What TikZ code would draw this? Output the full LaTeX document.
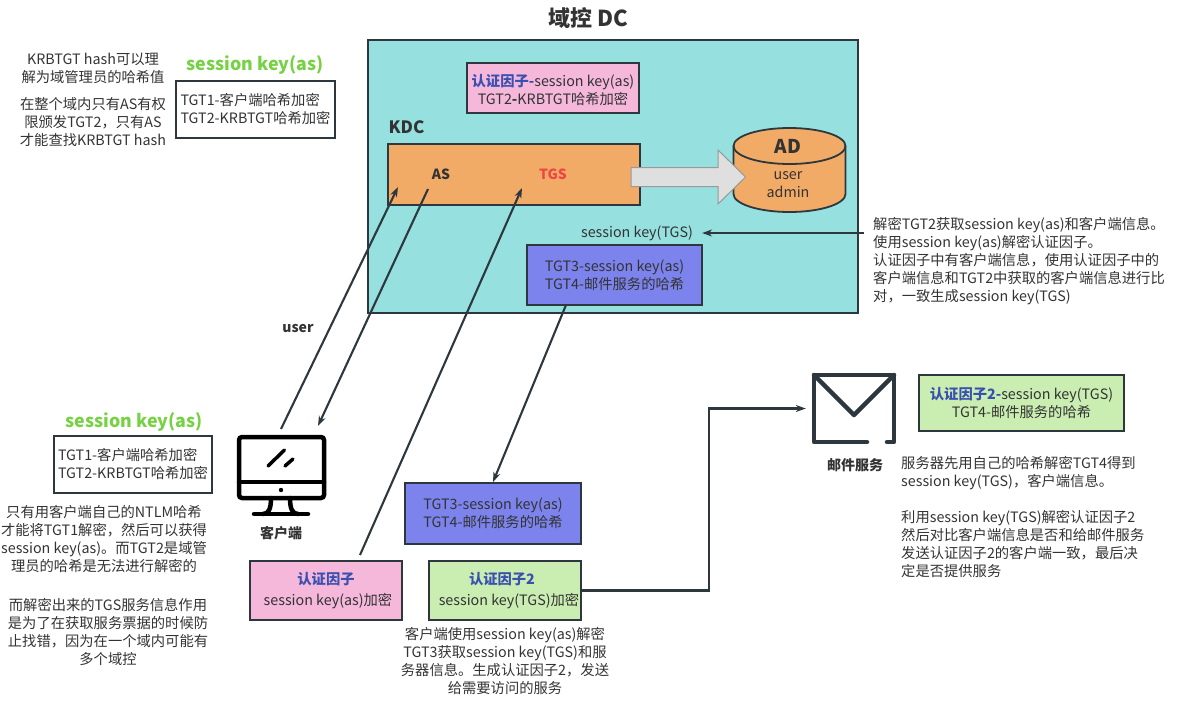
\documentclass[tikz,border=0pt]{standalone}
\usepackage{fontspec}
\setmainfont{Noto Sans CJK SC}
\usepackage{xcolor}
\usepackage{tikz}
\usetikzlibrary{calc, arrows.meta, positioning}
\definecolor{linecol}{RGB}{45, 56, 62}
\definecolor{textcol}{RGB}{51, 51, 51}
\definecolor{tealfill}{RGB}{150, 224, 224}
\definecolor{pinkfill}{RGB}{245, 184, 219}
\definecolor{orangefill}{RGB}{242, 171, 102}
\definecolor{purplefill}{RGB}{124, 131, 236}
\definecolor{greenfill}{RGB}{202, 237, 178}
\definecolor{greenkey}{RGB}{119, 209, 68}
\definecolor{bluekey}{RGB}{58, 80, 176}
\definecolor{redkey}{RGB}{236, 70, 70}
\tikzset{
    boxnode/.style = {draw=linecol, line width=1.8pt, rectangle, inner sep=0pt,
      text=textcol, align=center, font=\fontsize{14.3}{18}\selectfont},
    textnode/.style = {draw=none, fill=none, rectangle, inner sep=0pt,
      text=textcol, align=center, font=\fontsize{14.3}{18}\selectfont},
    boldnode/.style = {textnode, font=\fontsize{14}{18}\selectfont\bfseries},
    keynode/.style = {textnode, text=greenkey, font=\fontsize{17.8}{22}\selectfont\bfseries},
    iconnode/.style = {rectangle, draw=none, inner sep=0pt},
    iconline/.style = {draw=linecol, line width=4.5pt, line cap=round, line join=round},
    connect/.style = {draw=linecol, line width=2.1pt, -{Stealth[length=10pt,width=7pt]}},
}
\newcommand{\keyword}[1]{\textcolor{bluekey}{\textbf{#1}}}

\begin{document}
\begin{tikzpicture}[x=1pt,y=1pt,node distance=0pt]
    \path[use as bounding box] (0,0) rectangle (1179,-710);

    % domain controller
    \node[boxnode, name=DC, fill=tealfill, minimum width=490pt, minimum height=273pt] at (613,-176.5) {};
    \node[textnode, above of=DC, xshift=-25pt, yshift=158.5pt, font=\fontsize{22}{24}\selectfont\bfseries] {域控 DC};
    \node[boxnode, name=AuthTgt, above of=DC, xshift=-60pt, yshift=88.5pt, fill=pinkfill, minimum width=172pt, minimum height=50pt]
      {\rule{0pt}{16pt}\keyword{认证因子-}session key(as)\\TGT2\textbf{-}KRBTGT哈希加密};
    \node[boxnode, name=KDC, left of=DC, xshift=-99pt, yshift=2pt, fill=orangefill, minimum width=252pt, minimum height=61pt] {};
    \node[boldnode, above of=KDC, xshift=-107.5pt, yshift=47.5pt, font=\fontsize{17}{20}\selectfont\bfseries] {KDC};
    \node[boldnode, name=AS, left of=KDC, xshift=-73pt, yshift=0.5pt] {AS};
    \node[boldnode, name=TGS, right of=KDC, xshift=39pt, yshift=0.5pt, text=redkey] {TGS};

    % directory store
    \node[iconnode, name=AD, right of=DC, xshift=176.5pt, yshift=6.5pt, minimum width=113pt, minimum height=84pt] {};
    \begin{scope}[shift={(AD)}]
      \draw[draw=linecol, line width=1.8pt, fill=orangefill] (-56,24) arc (180:0:56 and 18) -- (56,-24) arc (0:-180:56 and 18) -- cycle;
      \draw[draw=linecol, line width=1.8pt] (-56,24) arc (180:360:56 and 18);
    \end{scope}
    \node[boldnode, above of=AD, xshift=-1.5pt, yshift=24pt, font=\fontsize{19}{22}\selectfont\bfseries] {AD};
    \node[textnode, below of=AD, xshift=-1.5pt, yshift=-14.5pt] {user\\admin};
    \node[iconnode, name=BlockArrow, right of=KDC, xshift=174.5pt, yshift=-2.5pt, minimum width=115pt, minimum height=54pt] {};
    \begin{scope}[shift={(BlockArrow)}]
      \draw[draw=gray!80, line width=1pt, fill=gray!25] (-57.5,9.5) -- (29.5,9.5) -- (29.5,27) -- (57,0) -- (29.5,-27) -- (29.5,-9.5) -- (-57.5,-9.5) -- cycle;
    \end{scope}

    \node[textnode, name=SessTGS, below of=DC, xshift=24pt, yshift=-56.5pt] {session key(TGS)};
    \node[boxnode, name=TgtTop, below of=DC, xshift=1.5pt, yshift=-98.5pt, fill=purplefill, minimum width=175pt, minimum height=60pt]
      {TGT3-session key(as)\\TGT4-邮件服务的哈希};
    \node[textnode, name=DecryptNote, right of=DC, anchor=west, xshift=260pt, yshift=-84.5pt, align=left]
      {解密TGT2获取session key(as)和客户端信息。\\使用session key(as)解密认证因子。\\认证因子中有客户端信息，使用认证因子中的\\客户端信息和TGT2中获取的客户端信息进行比\\对，一致生成session key(TGS)};
    \coordinate (DecryptOut) at ($(DecryptNote.west)+(-9,28)$);

    % notes beside the domain controller
    \node[boxnode, name=KeyBoxTop, left of=DC, xshift=-357.5pt, yshift=67pt, fill=white, minimum width=159pt, minimum height=57pt, align=left]
      {TGT1-客户端哈希加密\\TGT2-KRBTGT哈希加密};
    \node[keynode, above of=KeyBoxTop, xshift=-0.5pt, yshift=44.5pt] {session key(as)};
    \node[textnode, left of=KeyBoxTop, xshift=-162.5pt, yshift=41pt] {KRBTGT hash可以理\\解为域管理员的哈希值};
    \node[textnode, left of=KeyBoxTop, xshift=-162.5pt, yshift=-12.5pt] {在整个域内只有AS有权\\限颁发TGT2，只有AS\\才能查找KRBTGT hash};

    % client
    \node[iconnode, name=Client, below of=DC, xshift=-331.5pt, yshift=-299.5pt, minimum width=89pt, minimum height=81pt] {};
    \node[iconnode, name=Screen, above of=Client, yshift=8.5pt, draw=black, line width=4.5pt, rounded corners=3pt, minimum width=85pt, minimum height=61pt] {};
    \begin{scope}[shift={(Client)}, iconline/.append style={draw=black}]
      \draw[iconline] (-42.5,-6) -- (42.5,-6);
      \fill[black] (-0.5,-14) circle (2.2);
      \draw[iconline] (-10.5,-22) .. controls (-10.5,-33) and (-13,-38) .. (-18.5,-38);
      \draw[iconline] (8.5,-22) .. controls (8.5,-33) and (11,-38) .. (16.5,-38);
      \draw[iconline] (-27.5,-38) -- (26.5,-38);
      \draw[iconline, line width=3.5pt] (-13.5,10) -- (3,26);
      \draw[iconline, line width=3.5pt] (3.5,10) -- (11.5,17);
    \end{scope}
    \node[boldnode, below of=Client, xshift=-0.5pt, yshift=-57pt] {客户端};
    \node[boldnode, above of=Client, xshift=16.5pt, yshift=147pt] {user};

    \node[boxnode, name=KeyBoxLow, left of=Client, xshift=-148.5pt, yshift=11.5pt, fill=white, minimum width=158pt, minimum height=57pt, align=left]
      {TGT1-客户端哈希加密\\TGT2-KRBTGT哈希加密};
    \node[keynode, above of=KeyBoxLow, xshift=1pt, yshift=42.5pt] {session key(as)};
    \node[textnode, left of=Client, xshift=-177.5pt, yshift=-63pt]
      {只有用客户端自己的NTLM哈希\\才能将TGT1解密，然后可以获得\\session key(as)。而TGT2是域管\\理员的哈希是无法进行解密的};
    \node[textnode, left of=Client, xshift=-173.5pt, yshift=-156pt]
      {而解密出来的TGS服务信息作用\\是为了在获取服务票据的时候防\\止找错，因为在一个域内可能有\\多个域控};

    \node[boxnode, name=TgtLow, right of=Client, xshift=211.5pt, yshift=-37.5pt, fill=purplefill, minimum width=176pt, minimum height=61pt]
      {TGT3-session key(as)\\TGT4-邮件服务的哈希};
    \node[boxnode, name=AuthOne, below of=Client, xshift=44.5pt, yshift=-114.5pt, fill=pinkfill, minimum width=152pt, minimum height=59pt]
      {\keyword{认证因子}\\[3pt]\hspace*{4pt}session key(as)加密};
    \node[boxnode, name=AuthTwo, right of=AuthOne, xshift=179pt, fill=greenfill, minimum width=152pt, minimum height=59pt]
      {\keyword{认证因子2}\hspace*{6pt}\\[3pt]\hspace*{8pt}session key(TGS)加密};
    \node[textnode, below of=AuthTwo, yshift=-70.5pt]
      {客户端使用session key(as)解密\\TGT3获取session key(TGS)和服\\务器信息。生成认证因子2，发送\\给需要访问的服务};

    % mail service
    \node[iconnode, name=Mail, below of=DC, xshift=241pt, yshift=-232pt, minimum width=84pt, minimum height=71pt] {};
    \begin{scope}[shift={(Mail)}]
      \draw[iconline] (13,-33.5) -- (-40,-33.5) -- (-40,33.5) -- (40,33.5) -- (40,-33.5) -- (33,-33.5);
      \draw[iconline] (-40,33.5) -- (0,-6.5) -- (40,33.5);
    \end{scope}
    \node[boldnode, below of=Mail, xshift=1pt, yshift=-56.5pt] {邮件服务};
    \node[boxnode, name=MailKey, right of=Mail, xshift=167.5pt, yshift=5.5pt, fill=greenfill, minimum width=205pt, minimum height=56pt]
      {\keyword{认证因子2-}session key(TGS)\\TGT4-邮件服务的哈希};
    \node[textnode, right of=Mail, anchor=west, xshift=47pt, yshift=-108.5pt, align=left]
      {服务器先用自己的哈希解密TGT4得到\\session key(TGS)，客户端信息。\\[18pt]利用session key(TGS)解密认证因子2\\然后对比客户端信息是否和给邮件服务\\发送认证因子2的客户端一致，最后决\\定是否提供服务};

    % free ends of the connectors
    \coordinate[above of=Client, xshift=-0.5pt, yshift=47pt, name=ClientOut];
    \coordinate[above of=Client, xshift=36.5pt, yshift=50pt, name=ClientIn];
    \coordinate[left of=AS, xshift=-43pt, yshift=-13pt, name=ASIn];
    \coordinate[left of=AS, xshift=-13pt, yshift=-15pt, name=ASOut];
    \coordinate[left of=TGS, xshift=-31pt, yshift=-14pt, name=TGSIn];
    \coordinate[above of=AuthOne, xshift=34pt, yshift=35.5pt, name=AuthOut];
    \coordinate[below of=TgtTop, xshift=-48.5pt, yshift=-30pt, name=TgtOut];
    \coordinate[right of=AuthTwo, xshift=204pt, name=MailBend];

    \draw (ClientOut) edge[connect] (ASIn);
    \draw (ASOut) edge[connect] (ClientIn);
    \draw (AuthOut) edge[connect] (TGSIn);
    \draw (TgtOut) edge[connect] (TgtLow.north);
    \draw (DecryptOut) edge[connect, shorten >=9pt] (SessTGS.east);
    \draw[connect, shorten >=6pt] (AuthTwo.east) -- (MailBend) |- (Mail.west);
\end{tikzpicture}
\end{document}
